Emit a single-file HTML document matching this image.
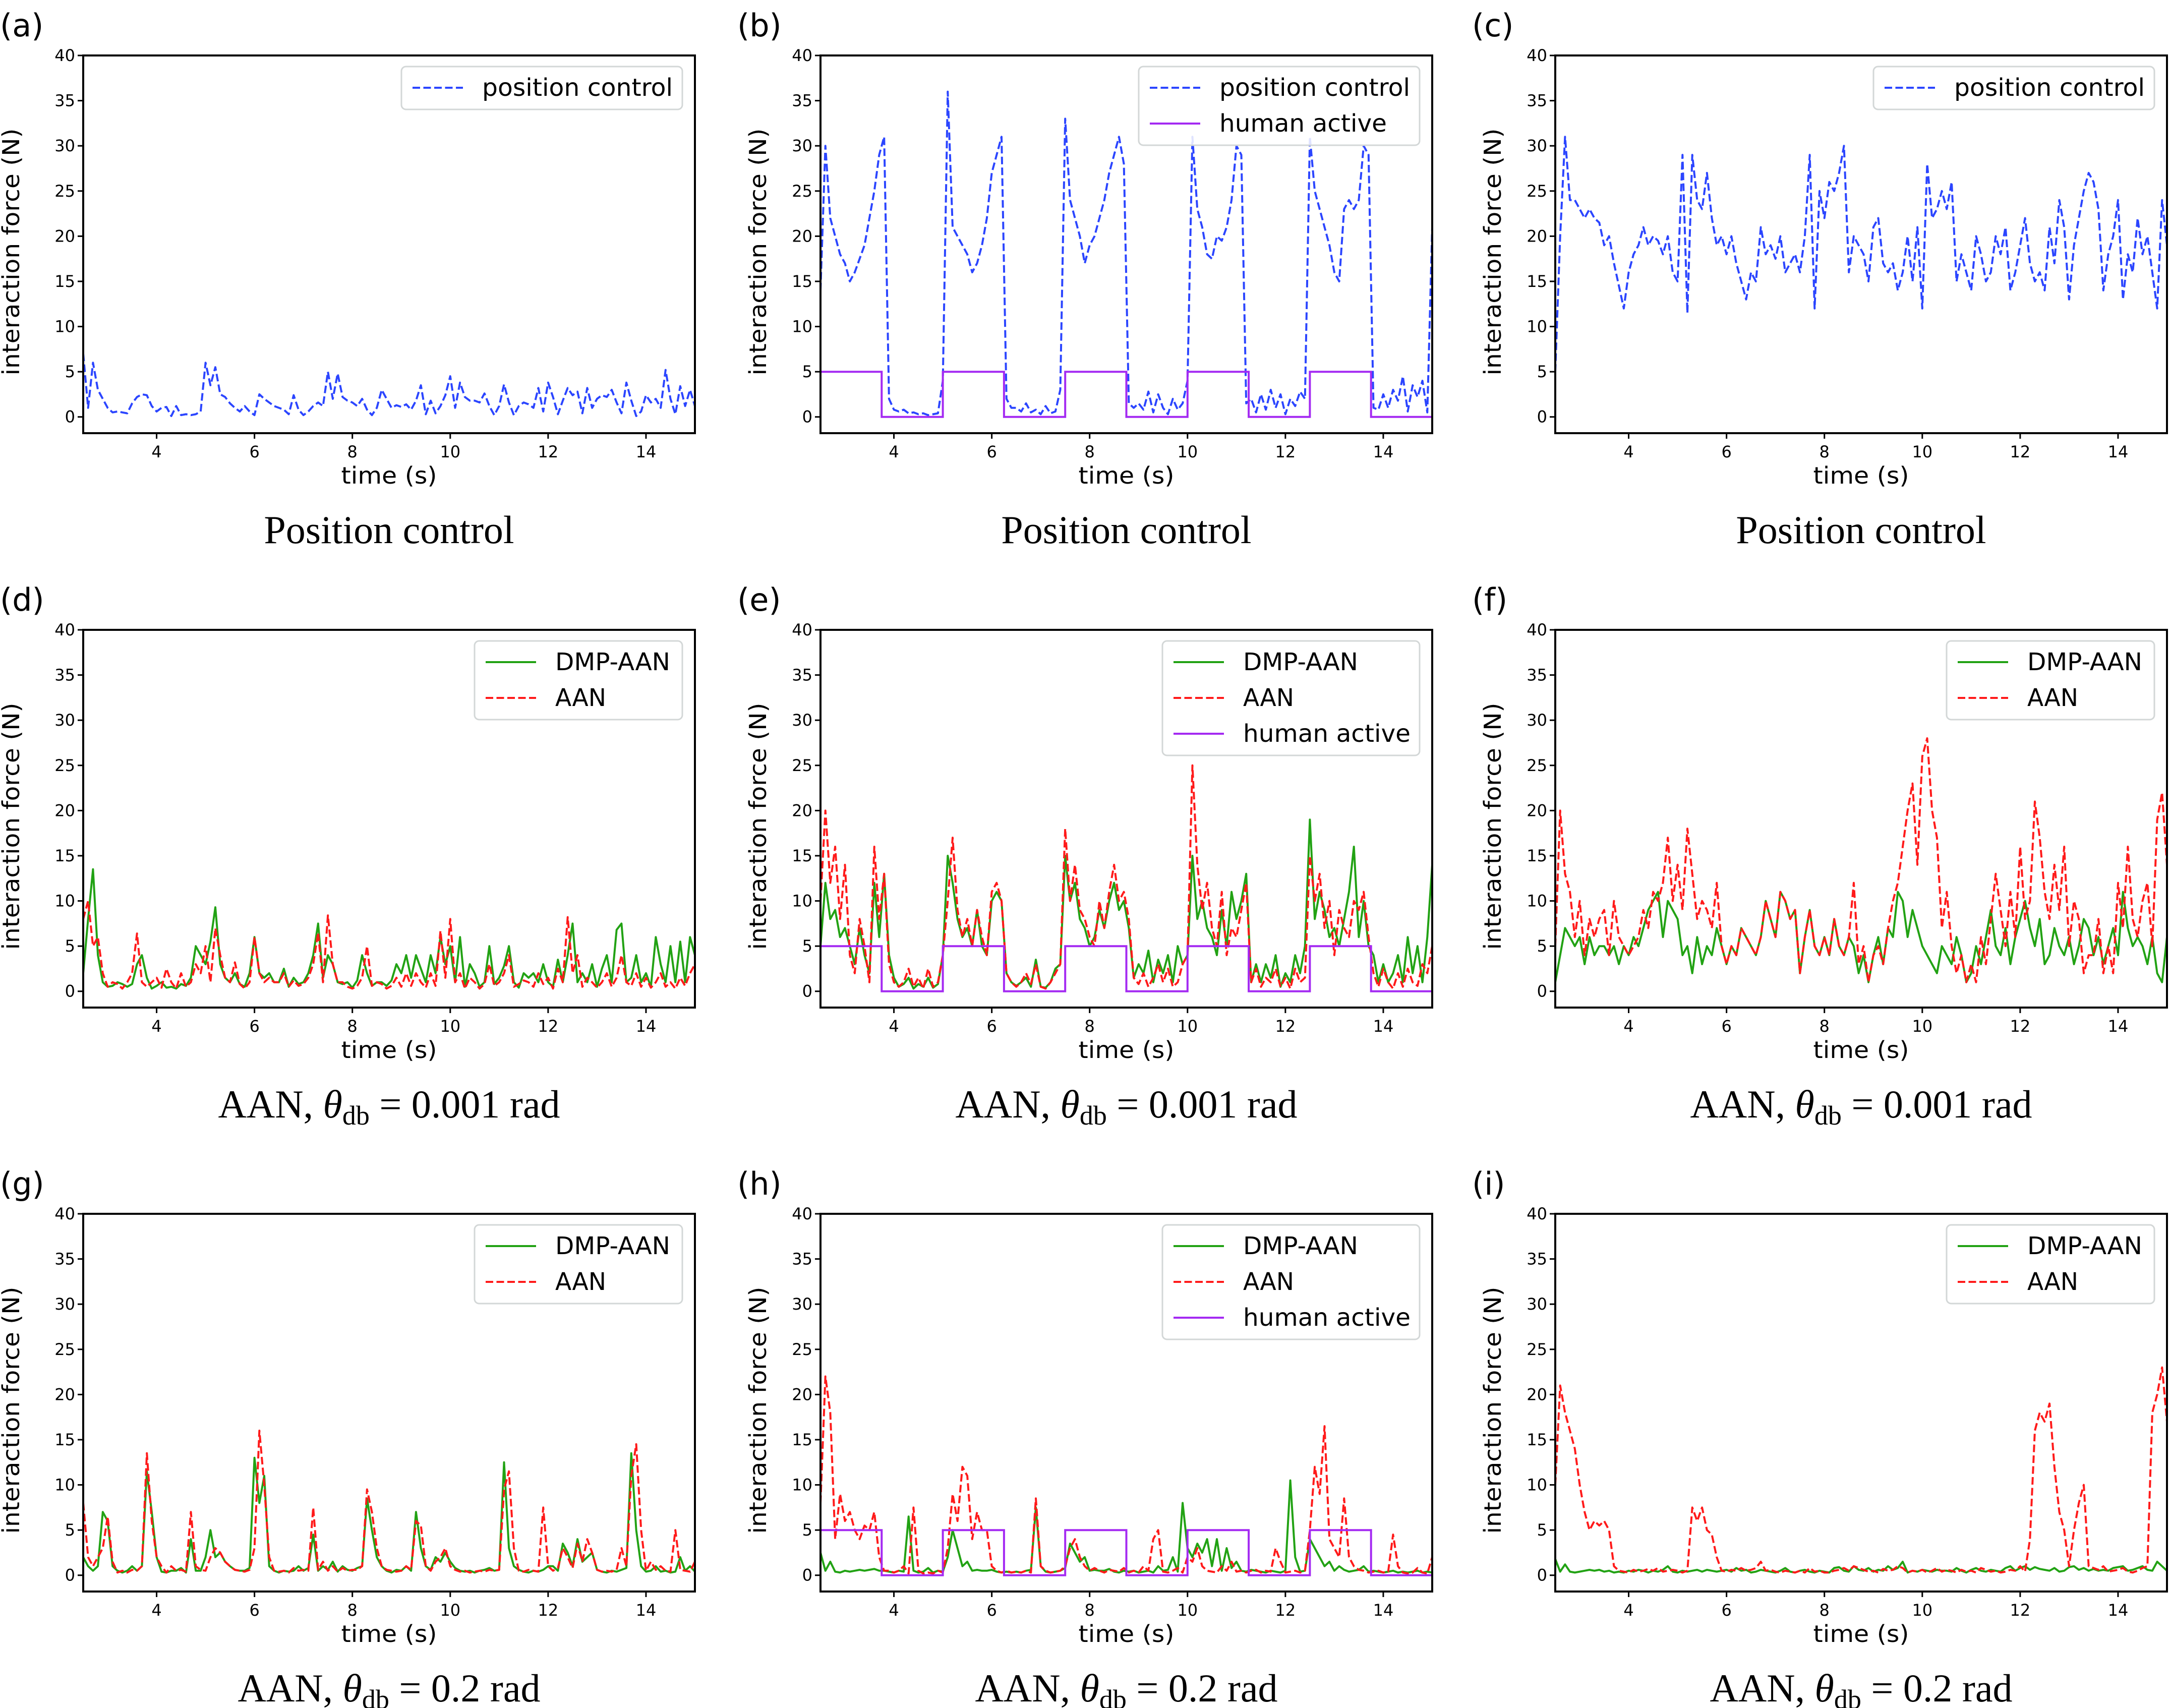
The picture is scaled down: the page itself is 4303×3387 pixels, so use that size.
<!DOCTYPE html>
<html><head><meta charset="utf-8"><style>
html,body{margin:0;padding:0;background:#fff;}
svg{display:block;}
</style></head><body>
<svg id="fig" width="4303" height="3387" viewBox="0 0 4303 3387" xmlns="http://www.w3.org/2000/svg"></svg>
<script>
// ---- data (t from 2.5 to 15.0, step 0.1) ----
const tStart = 2.5;
const tStep = 0.1;
const xTicks = [4, 6, 8, 10, 12, 14];
const yTicks = [0, 5, 10, 15, 20, 25, 30, 35, 40];
const humanEdges = [2.5, 3.75, 5.0, 6.25, 7.5, 8.75, 10.0, 11.25, 12.5, 13.75, 15.0];
const humanLevels = [5, 0, 5, 0, 5, 0, 5, 0, 5, 0, 5];

const aPos = [7,1,6,3,2,1,0.5,0.6,0.5,0.4, 1.5,2.2,2.5,2.4,1.2,0.6,1.0,1.1,0.1,1.2, 0.2,0.3,0.2,0.3,0.6,6.0,3.5,5.5,2.5,2.2, 1.5,1.0,0.6,1.2,0.6,0.2,2.5,2.0,1.6,1.2, 1.0,0.8,0.3,2.4,0.8,0.2,0.6,1.2,1.6,1.2, 5.0,2.0,4.8,2.2,1.8,1.6,1.2,2.0,0.8,0.2, 1.0,3.0,2.0,1.0,1.3,1.1,1.4,0.8,1.8,3.5, 0.3,1.8,0.4,1.2,2.4,4.5,1.0,3.8,2.2,1.8, 1.8,1.6,2.6,1.2,0.2,1.2,3.6,1.6,0.2,1.2, 1.6,1.4,1.0,3.2,0.6,3.8,2.2,0.3,1.8,3.2, 2.4,2.8,0.4,3.2,1.0,2.0,2.4,2.2,3.0,1.6, 0.4,3.8,1.8,0.1,0.6,2.4,1.6,2.0,1.0,5.2, 2.0,0.3,3.4,1.2,3.0,1.2];
const bPos = [14,30,22,20,18,17,15,16,17.5,19, 22,25,29,31,2,0.8,0.6,0.8,0.4,0.5, 0.3,0.4,0.2,0.3,0.4,4,36,21,20,19, 18,16,17,19,22,27,29,31,2,1, 1,0.6,1.5,0.5,0.8,0.3,1.2,0.4,0.6,3, 33,24,22,20,17,19,20,22,24,27, 29,31,28,1.5,1,1.5,0.8,2.8,0.5,2.5, 1,0.3,2,0.8,1.5,4,31,23,21,18, 17.5,20,19.5,21,24,30,29,1.5,2,0.5, 2.5,0.8,3,1,2.5,0.3,2,1.2,2.8,2, 31,25,23,21,19,16,15,23,24,23, 24,30,29,1,0.8,2.5,1,3,1.8,4.5, 0.6,3.5,2.2,4,0.5,21];
const cPos = [5,20,31,24,24,23,22,23,22,21.5, 19,20,17,14.5,12,16,18,19,21,19, 20,19.5,18,20,16,15,29,11.5,29,24, 23,27,22,19,20,18,20,17,15,13, 16,15,21,18,19,17.5,20,16,17,18, 16,20,29,12,25,22,26,25,27,30, 16,20,19,18,15,21,22,17,16,17, 14,16,20,15,21,12,28,22,23,25, 23,26,15,18,16,14,20,18,15,16, 20,18,21,14,16,19,22,17,15,16, 14,21,17,24,21,13,19,22,25,27, 26,23,14,18,20,24,13,18,16,22, 18,20,16,12,24,19];
const dDmp = [2,8,13.5,4,1,0.5,0.6,1,0.8,0.5, 0.8,3,4,1.5,0.3,0.6,1,0.4,0.5,0.3, 0.8,0.6,1.5,5,4,3,5.5,9.3,3,1.5, 1,2,0.8,0.5,2,6,2,1.5,2,1, 1,2.5,0.5,1.5,0.8,1,2,4,7.5,1.5, 4,3,1,0.8,1,0.4,1.2,4,2,0.6, 1,1,0.6,1.2,3,2,4,1.5,4,2.5, 1,4,2,6,3,5,1,6,0.5,3, 2,0.5,1,5,0.8,1.5,2.8,5,1,0.4, 2,1.5,2,1,3,1,0.5,3.5,1,4, 7.5,1,2,1,3,0.5,2.5,4,1,6.8, 7.5,1,1.5,4,1,2,0.5,6,3,1, 5,1,5.5,1,6,4];
const dAan = [8,10,5,6,2,0.5,1,0.8,0.3,1, 2,6.4,1,0.5,1,1.5,0.4,2.5,1,0.3, 2,0.5,1,3,2,5,1,7,4,1.5, 1,3.2,0.8,0.3,1,6,2,1,1.5,1, 1,2,0.5,1.2,0.6,0.8,1.5,3,6.5,1, 8.4,3,1,1,0.5,0.3,0.6,1.5,5,0.6, 1,0.8,0.3,0.6,1.5,0.5,2,0.6,2,1, 0.4,2,0.6,6.7,1.5,8,1,2,0.3,1.5, 1,0.3,0.8,3,0.6,1,2,4,0.5,0.8, 1.2,1,0.5,2,0.8,1.5,0.3,2.5,1,8.2, 2,4,0.5,1.5,1,0.4,1,2,0.5,1.5, 4,1,0.6,2,0.5,1.5,0.4,1,2,0.5, 1,0.3,1.5,0.6,2,3];
const eDmp = [5,12,8,9,6,7,5,3,7,4, 2,12,6,13,4,1.5,0.5,0.8,1.5,0.3, 0.8,0.5,1.5,0.4,0.8,4,15,12,8,6, 7,5,9,5,4,10,11,10,2,1, 0.6,1,1.5,0.5,3.5,0.5,0.4,1,2.5,3, 15,10,12,8,7,5,6,9,7,10, 12,9,10,7,1.5,3,2,4.5,1,3.5, 2,4,1,5,3,4,15,8,10,7, 6,4,9,5,11,8,10,13,1,3, 1,3,1.5,4,0.5,2,1,4,2,5, 19,8,11,9,6,7,5,8,11,16, 6,10,5,4,1,3,1,2,4,1, 6,2,5,1,6,14];
const eAan = [10,20,12,16,8,14,4,2,8,5, 1,16,8,13,3,1,0.5,1,2.5,0.5, 1.5,0.3,2.5,0.5,1,4,10,17,9,6, 8,5,9,6,4,11,12,10,2,1, 0.5,1,2,0.8,3,0.5,0.3,1,2,3, 18,10,14,9,8,6,5,10,7,11, 14,10,11,8,1.5,0.8,2,0.5,1.5,3, 1,2.5,0.5,1,3,4,25,14,9,12, 7,5,11,4,7,6,9,12,1,2.5, 0.5,1.5,1,2.5,0.5,1.5,0.3,2.5,1,1.5, 15,10,13,7,10,4,9,7,6,10, 9,11,6,2,0.5,2.5,1,0.3,2,0.5, 2.5,1,0.6,3,2,5];
const fDmp = [1,4,7,6,5,6,3,6,4,5, 5,4,5,3,5,4,6,5,7,9, 10,11,6,10,9,8,4,5,2,6, 3,5,4,7,5,3,5,4,7,6, 5,4,6,10,8,6,11,10,8,9, 2,6,9,5,4,6,4,8,5,4, 6,5,2,4,1,4,6,3,7,6, 11,10,6,9,7,5,4,3,2,5, 4,3,6,4,1,2,5,3,6,9, 5,4,7,3,6,8,10,7,5,8, 3,4,7,5,4,6,3,5,8,7, 4,6,3,5,7,4,11,7,5,6, 5,3,6,2,1,6];
const fAan = [5,20,13,11,6,10,4,8,6,8, 9,4,10,6,5,4,5,6,9,7, 11,10,12,17,10,14,9,18,13,8, 10,9,7,12,5,3,5,4,7,6, 5,4,6,10,8,6,11,10,8,9, 2,6,9,5,4,6,4,8,5,4, 6,12,3,5,1,4,5,3,7,10, 12,16,20,23,14,26,28,20,17,7, 11,5,2,4,1,3,1,6,3,8, 13,9,5,11,6,16,8,10,21,17, 11,8,14,9,16,5,10,8,2,4, 4,8,2,5,2,12,7,16,8,6, 10,12,5,19,22,14];
const gDmp = [2,1,0.5,1,7,6,1,0.5,0.3,0.5, 1,0.5,1,11.5,7,2,0.4,0.3,0.5,0.5, 0.8,0.3,4,0.5,0.5,2,5,2,2.5,1.5, 1,0.6,0.5,0.5,0.8,13,8,11,1,0.5, 0.3,0.5,0.4,0.5,1,0.5,0.8,4.5,0.5,1, 0.6,1.5,0.4,1,0.6,0.5,0.8,1,8.5,5, 2,1,0.5,0.3,0.6,0.5,1,0.5,7,3, 1,0.6,2,1.5,2.5,1.5,0.8,0.5,0.4,0.5, 0.3,0.5,0.6,0.8,0.5,0.6,12.5,3,1,0.6, 0.4,0.3,0.5,0.4,0.6,1,1,0.5,3.5,2.5, 1,4,1.5,2,2.5,0.6,0.4,0.3,0.5,0.4, 0.6,0.8,13.5,5,1,0.4,0.5,1,0.4,0.5, 0.3,0.4,2,0.5,1,0.4];
const gAan = [8,2,1,2,3,6.5,1.5,0.3,0.5,0.3, 0.6,0.5,1,13.5,6,2,1,0.3,1,0.5, 0.6,0.4,7,1,0.6,0.5,2,3,2.5,1.5, 1,0.6,0.5,0.4,0.6,3,16,10,2,0.5, 0.4,0.5,0.3,0.8,0.5,0.6,0.5,7.5,0.6,1.5, 0.5,1,0.4,0.8,0.5,0.6,0.6,1,9.5,7, 3,1,0.6,0.5,0.4,0.5,1,0.6,6,5.5, 1,0.5,1.5,2,3,1,0.6,0.4,0.5,0.3, 0.4,0.5,0.4,0.6,0.5,0.6,9.5,11.5,3,0.5, 0.4,0.6,0.5,0.4,7.5,1,0.5,0.8,3,2, 0.8,3.5,1.5,4,2.5,0.6,0.4,0.5,0.4,0.6, 3,1,11,14.5,5,0.5,1.5,0.6,1,0.5, 0.4,5,0.6,0.5,0.4,1.5];
const hDmp = [2.5,0.5,1.5,0.4,0.3,0.5,0.4,0.5,0.6,0.5, 0.6,0.7,0.5,0.5,0.4,0.3,0.5,0.4,6.5,0.5, 0.3,0.4,0.8,0.3,0.5,0.4,2,5,3,1, 1.5,0.5,0.6,0.5,0.5,0.6,0.4,0.3,0.4,0.3, 0.4,0.3,0.5,0.6,7.5,1,0.4,0.3,0.4,0.5, 0.8,3.5,2.5,1.5,2,0.5,0.6,0.5,0.5,0.7, 0.4,0.3,0.5,0.4,0.5,0.3,0.4,0.5,0.3,1, 0.5,0.6,2,0.4,8,3,2,3.5,2.5,4, 1,4,0.5,3,0.8,1.5,0.5,0.4,0.6,0.5, 0.4,0.3,0.5,0.4,0.3,0.5,10.5,2,0.4,0.5, 4,3,2,1,1.5,0.5,1,0.6,0.4,0.5, 0.6,1,0.4,0.5,0.4,0.3,0.4,0.5,0.3,0.4, 0.3,0.4,0.5,0.3,0.4,0.3];
const hAan = [8,22,18,4,9,6,7,5,4,5.5, 5,7,2,0.5,0.5,0.3,0.5,1,0.2,7.5, 0.5,0.2,0.3,0.2,0.5,0.3,3,9,6,12, 11,4,7,5,5,1,0.5,0.3,0.5,0.3, 0.4,0.3,0.5,0.3,8.5,1,0.5,0.3,0.4,0.5, 1,3,4,2,1,0.5,0.8,0.5,0.3,0.6, 0.5,0.4,0.8,0.3,0.5,0.3,1,0.5,4,5, 0.4,0.3,0.5,0.8,0.3,2,1.5,3,1,0.5, 0.4,0.3,1,0.5,1.5,0.4,0.5,0.3,0.5,0.6, 0.3,0.5,0.4,3,1.5,0.3,0.4,0.5,0.3,0.5, 5,12,9,16.5,4,3,2,8.5,2,1, 0.6,0.5,0.3,0.4,0.5,0.3,0.4,4.5,1,0.3, 0.2,0.3,0.8,0.3,0.2,2];
const iDmp = [1.8,0.4,1.2,0.4,0.3,0.4,0.5,0.6,0.5,0.6, 0.4,0.5,0.3,0.4,0.3,0.5,0.4,0.6,0.5,0.3, 0.5,0.4,0.6,1,0.4,0.3,0.5,0.4,0.5,0.6, 0.4,0.6,0.5,0.4,0.5,0.6,0.4,0.8,0.5,0.6, 0.3,0.4,0.6,0.5,0.4,0.3,0.5,0.8,0.4,0.3, 0.5,0.6,0.4,0.3,0.5,0.4,0.3,0.8,0.9,0.5, 0.4,1,0.6,0.5,0.8,0.4,0.6,0.5,1,0.6, 0.8,1.5,0.3,0.5,0.4,0.6,0.5,0.4,0.6,0.5, 0.5,0.4,0.8,0.5,0.3,0.6,0.8,0.5,0.4,0.6, 0.5,0.4,0.8,1,0.5,0.8,1,0.6,0.9,0.7, 0.6,0.5,0.8,0.4,0.5,0.9,1,0.6,0.8,0.5, 0.7,0.5,0.6,0.5,0.8,0.9,1,0.5,0.6,0.8, 1,0.6,0.5,1.5,1,0.5];
const iAan = [10,21,18,16,14,10,7,5,6,5.5, 6,5,1,0.5,0.4,0.3,0.6,0.4,0.5,0.7, 0.5,0.8,0.4,0.5,0.6,0.5,0.3,0.5,7.5,6, 7.5,5,4.5,2,0.5,0.4,0.6,0.5,0.8,0.5, 0.6,0.8,1.5,0.5,0.6,0.4,0.3,0.5,0.4,0.3, 0.5,0.3,0.8,0.4,0.5,0.3,0.3,0.5,0.6,0.8, 0.5,1,0.8,0.6,0.4,0.5,0.3,0.7,0.5,0.6, 1,0.8,0.3,0.5,0.4,0.6,0.3,0.5,0.8,0.4, 0.6,0.5,0.3,0.6,0.4,0.5,0.3,0.8,0.6,0.4, 0.5,0.3,0.4,0.6,0.5,1,0.4,4,16,18, 17,19,12,7,5,1,5,8,10,1, 0.8,0.6,1,0.4,0.5,0.6,0.8,0.4,0.3,0.5, 0.8,1,18,20,23,17];

// ---- layout / styles ----
const NS = 'http://www.w3.org/2000/svg';
const svg = document.getElementById('fig');
const AW = 1213, AH = 749;
const colX = [165, 1627, 3084];
const rowY = [110, 1249, 2407];
const X0 = 2.5, X1 = 15.0, Y0 = -1.8, Y1 = 40;
const STY = {
  blue: {c:'#2b45ff', dash:'15 6.5', label:'position control', tl:378},
  green: {c:'#22a214', dash:null, label:'DMP-AAN', tl:228},
  red: {c:'#ff1a1a', dash:'15 6.5', label:'AAN', tl:101},
  purple: {c:'#a42af2', dash:null, label:'human active', tl:332}
};
function el(tag, attrs, parent){
  const e = document.createElementNS(NS, tag);
  for (const k in attrs) e.setAttribute(k, attrs[k]);
  (parent||svg).appendChild(e);
  return e;
}
const defs = el('defs', {});

const panels = [
  {id:'a', c:0, r:0, series:[['blue',aPos]], human:false, title:'pos'},
  {id:'b', c:1, r:0, series:[['blue',bPos]], human:true, title:'pos'},
  {id:'c', c:2, r:0, series:[['blue',cPos]], human:false, title:'pos'},
  {id:'d', c:0, r:1, series:[['green',dDmp],['red',dAan]], human:false, title:'0.001'},
  {id:'e', c:1, r:1, series:[['green',eDmp],['red',eAan]], human:true, title:'0.001'},
  {id:'f', c:2, r:1, series:[['green',fDmp],['red',fAan]], human:false, title:'0.001'},
  {id:'g', c:0, r:2, series:[['green',gDmp],['red',gAan]], human:false, title:'0.2'},
  {id:'h', c:1, r:2, series:[['green',hDmp],['red',hAan]], human:true, title:'0.2'},
  {id:'i', c:2, r:2, series:[['green',iDmp],['red',iAan]], human:false, title:'0.2'}
];

panels.forEach(p => {
  const x0 = colX[p.c], y0 = rowY[p.r];
  const sx = t => x0 + (t - X0) / (X1 - X0) * AW;
  const sy = v => y0 + AH - (v - Y0) / (Y1 - Y0) * AH;
  const g = el('g', {});
  
  

  const lab = el('text', {x: x0 - 165, y: y0 - 38, 'font-family':'DejaVu Sans, Liberation Sans, sans-serif', 'font-size':62, fill:'#000'}, g);
  
  
  lab.textContent = '(' + p.id + ')';

  const cp = el('clipPath', {id:'clip-' + p.id}, defs);
  el('rect', {x:x0, y:y0, width:AW, height:AH}, cp);

  const plot = el('g', {'clip-path':'url(#clip-' + p.id + ')'}, g);
  
  
  const drawSeries = (key, vals) => {
    const s = STY[key];
    let d = '';
    vals.forEach((v, i) => {
      const t = tStart + i * tStep;
      d += (i ? 'L' : 'M') + sx(t).toFixed(1) + ',' + sy(v).toFixed(1);
    });
    const path = el('path', {d:d, fill:'none', stroke:s.c, 'stroke-width':4, 'stroke-linejoin':'round'}, plot);
    if (s.dash) path.setAttribute('stroke-dasharray', s.dash);
    
    
  };
  p.series.forEach(s => drawSeries(s[0], s[1]));
  if (p.human) {
    let d = '';
    for (let k = 0; k < humanEdges.length - 1; k++) {
      const lv = humanLevels[k];
      d += (k ? 'L' : 'M') + sx(humanEdges[k]).toFixed(1) + ',' + sy(lv).toFixed(1);
      d += 'L' + sx(humanEdges[k+1]).toFixed(1) + ',' + sy(lv).toFixed(1);
    }
    const last = humanLevels[humanLevels.length - 1];
    d += 'L' + sx(humanEdges[humanEdges.length-1]).toFixed(1) + ',' + sy(last).toFixed(1);
    const hp = el('path', {d:d, fill:'none', stroke:STY.purple.c, 'stroke-width':4}, plot);
    
    
  }

  const fr = el('rect', {x:x0, y:y0, width:AW, height:AH, fill:'none', stroke:'#000', 'stroke-width':4}, g);
  
  

  yTicks.forEach(v => {
    const y = sy(v);
    el('line', {x1:x0 - 11, x2:x0, y1:y, y2:y, stroke:'#000', 'stroke-width':3}, g);
    const tl = el('text', {x:x0 - 16, y:y + 11, 'text-anchor':'end', 'font-family':'DejaVu Sans, sans-serif', 'font-size':32, fill:'#000'}, g);
    
    
    tl.textContent = v;
  });
  xTicks.forEach(v => {
    const x = sx(v);
    el('line', {x1:x, x2:x, y1:y0 + AH, y2:y0 + AH + 11, stroke:'#000', 'stroke-width':3}, g);
    const tl = el('text', {x:x, y:y0 + AH + 48, 'text-anchor':'middle', 'font-family':'DejaVu Sans, sans-serif', 'font-size':32, fill:'#000'}, g);
    
    
    tl.textContent = v;
  });
  const xt = el('text', {x:x0 + AW/2, y:y0 + AH + 100, 'text-anchor':'middle', 'font-family':'DejaVu Sans, sans-serif', 'font-size':46, textLength:190, lengthAdjust:'spacingAndGlyphs', fill:'#000'}, g);
  
  
  xt.textContent = 'time (s)';
  const ycx = p.c === 0 ? 38 : x0 - 108, ycy = y0 + AH/2 + 15;
  const yt = el('text', {x:ycx, y:ycy, transform:'rotate(-90 ' + ycx + ' ' + ycy + ')', 'text-anchor':'middle', 'font-family':'DejaVu Sans, sans-serif', 'font-size':46, textLength:490, lengthAdjust:'spacingAndGlyphs', fill:'#000'}, g);
  
  
  yt.textContent = 'interaction force (N)';

  const st = el('text', {x:x0 + AW/2, y:y0 + AH + 218, 'text-anchor':'middle', 'font-family':'Liberation Serif, serif', 'font-size':78, fill:'#000'}, g);
  
  
  if (p.title === 'pos') {
    st.textContent = 'Position control';
  } else {
    const t1 = el('tspan', {}, st); t1.textContent = 'AAN, ';
    const t2 = el('tspan', {'font-style':'italic'}, st); t2.textContent = 'θ';
    const t3 = el('tspan', {'font-size':54, dy:14}, st); t3.textContent = 'db';
    const t4 = el('tspan', {dy:-14}, st); t4.textContent = ' = ' + p.title + ' rad';
  }

  const entries = p.series.map(s => s[0]);
  if (p.human) entries.push('purple');
  const lw = p.series[0][0] === 'blue' ? 557 : (p.human ? 510 : 412);
  const lh = 14 + entries.length * 71;
  const lx = x0 + AW - 25 - lw, ly = y0 + 22;
  const lg = el('g', {}, g);
  
  
  el('rect', {x:lx, y:ly, width:lw, height:lh, rx:9, fill:'#fff', 'fill-opacity':0.85, stroke:'#d3d7d7', 'stroke-width':3}, lg);
  entries.forEach((k, i) => {
    const s = STY[k];
    const yy = ly + 42 + i * 71;
    const ln = el('line', {x1:lx + 22, x2:lx + 122, y1:yy, y2:yy, stroke:s.c, 'stroke-width':4}, lg);
    if (s.dash) ln.setAttribute('stroke-dasharray', s.dash);
    const tx = el('text', {x:lx + 160, y:yy + 16, 'font-family':'DejaVu Sans, sans-serif', 'font-size':48, textLength:s.tl, lengthAdjust:'spacingAndGlyphs', fill:'#000'}, lg);
    
    
    tx.textContent = s.label;
  });
});
</script>
</body></html>
